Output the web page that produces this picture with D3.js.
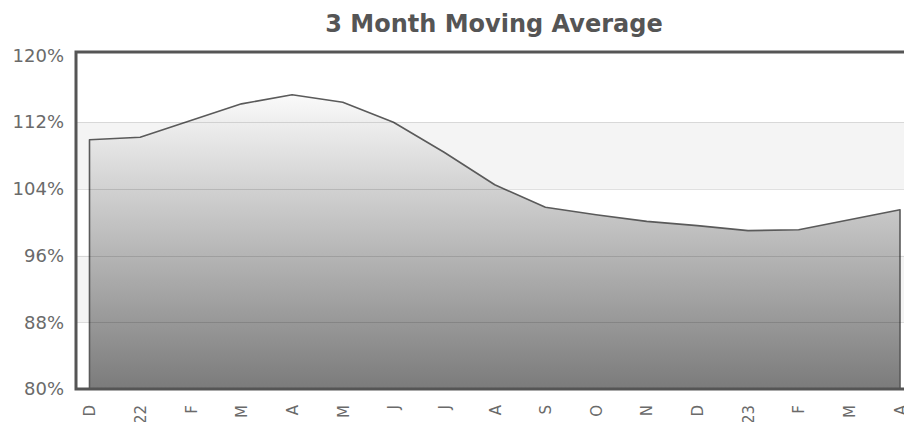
<!DOCTYPE html>
<html>
<head>
    <meta charset="utf-8">
    <style>
        body {
            margin: 0;
            background: #fff;
        }

        svg {
            display: block;
            font-family: 'DejaVu Sans', Verdana, sans-serif;
        }

        .title {
            font-size: 24px;
            font-weight: bold;
            fill: #555;
        }

        .y-label, .x-label {
            fill: #6a6a6a;
        }
    </style>
</head>

<body>
    <svg width="904" height="422"></svg>
</body>

<script src="https://d3js.org/d3.v7.min.js"></script>

<script>
    // month labels (Dec 21 .. Apr 23)
    let months = ["D", "22", "F", "M", "A", "M", "J", "J", "A", "S", "O", "N", "D", "23", "F", "M", "A"];
    let avgValues = [109.9, 110.2, 112.2, 114.2, 115.3, 114.4, 112.0, 108.4, 104.5, 101.8, 100.9, 100.1, 99.6, 99.0, 99.1, 100.3, 101.5];
    let yTicks = [80, 88, 96, 104, 112, 120];
    let bands = [[88, 96], [104, 112]];

    let svg = d3.select("svg");

    let frame = { left: 76, top: 52, right: 980, bottom: 389 };

    let x = d3.scaleLinear()
        .domain([0, months.length - 1])
        .range([89.5, 900]);

    let y = d3.scaleLinear()
        .domain([80, 120])
        .range([389, 55.5]);

    // title
    svg.append("text")
        .attr("class", "title")
        .attr("x", 494)
        .attr("y", 32)
        .attr("text-anchor", "middle")
        .text("3 Month Moving Average");

    // alternating bands
    svg.selectAll(".band")
        .data(bands)
        .join("rect")
        .attr("class", "band")
        .attr("x", frame.left)
        .attr("width", frame.right - frame.left)
        .attr("y", d => y(d[1]))
        .attr("height", d => y(d[0]) - y(d[1]))
        .style("fill", "#f4f4f4");

    // gradient for area
    let grad = svg.append("defs").append("linearGradient")
        .attr("id", "areaGrad")
        .attr("x1", 0).attr("y1", 0)
        .attr("x2", 0).attr("y2", 1);
    grad.append("stop").attr("offset", "0%").attr("stop-color", "#fafafa");
    grad.append("stop").attr("offset", "100%").attr("stop-color", "#7b7b7b");

    let area = d3.area()
        .x((d, i) => x(i))
        .y0(y(80))
        .y1(d => y(d));

    svg.append("path")
        .datum(avgValues)
        .attr("d", area)
        .style("fill", "url(#areaGrad)")
        .style("stroke", "#5a5a5a")
        .style("stroke-width", 1.6)
        .style("stroke-linejoin", "round");

    // grid lines on top, faint
    svg.selectAll(".grid")
        .data(yTicks.slice(1, -1))
        .join("line")
        .attr("class", "grid")
        .attr("x1", frame.left)
        .attr("x2", frame.right)
        .attr("y1", d => Math.round(y(d)) + 0.5)
        .attr("y2", d => Math.round(y(d)) + 0.5)
        .style("stroke", "#000")
        .style("stroke-opacity", 0.12);

    // frame
    svg.append("rect")
        .attr("x", frame.left)
        .attr("y", frame.top)
        .attr("width", frame.right - frame.left)
        .attr("height", frame.bottom - frame.top)
        .style("fill", "none")
        .style("stroke", "#555")
        .style("stroke-width", 3);

    // y axis
    let yAxis = svg.append("g")
        .attr("transform", "translate(" + (frame.left - 12) + ",0)")
        .call(d3.axisLeft(y).tickValues(yTicks).tickSize(0).tickFormat(d => d + "%"));
    yAxis.select(".domain").remove();
    yAxis.selectAll("text")
        .attr("class", "y-label")
        .attr("x", 0)
        .style("font-size", "18px")
        .style("font-family", "'DejaVu Sans', sans-serif");

    // x axis, rotated labels
    let xAxis = svg.append("g")
        .attr("transform", "translate(0," + 405 + ")")
        .call(d3.axisBottom(x).tickValues(d3.range(months.length)).tickSize(0).tickFormat(i => months[i]));
    xAxis.select(".domain").remove();
    xAxis.selectAll("text")
        .attr("class", "x-label")
        .attr("transform", "rotate(-90)")
        .attr("x", 0)
        .attr("y", 0)
        .attr("dy", "0.35em")
        .attr("text-anchor", "end")
        .style("font-size", "15px")
        .style("font-family", "'DejaVu Sans', sans-serif");
</script>
</html>
